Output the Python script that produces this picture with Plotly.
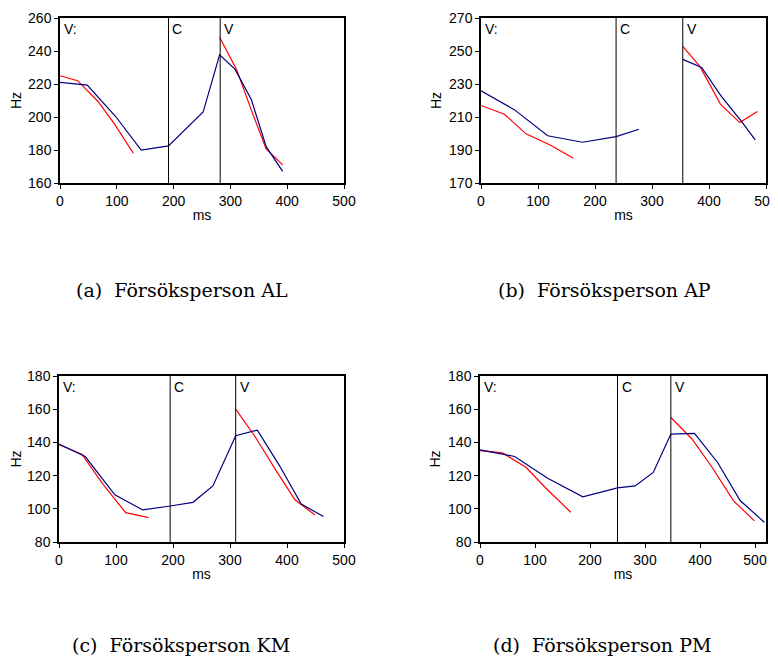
import plotly.graph_objects as go

# ---------------- data ----------------
panels = ["a", "b", "c", "d"]
captions = ["(a)  Försöksperson AL", "(b)  Försöksperson AP",
            "(c)  Försöksperson KM", "(d)  Försöksperson PM"]

# Panel (a)
a_blue_x = [0, 48, 98, 143, 191, 252, 281, 308, 337, 363, 392]
a_blue_y = [221, 219.3, 200.3, 180, 182.5, 203, 237.7, 229, 210.4, 182, 167]
a_red1_x = [0, 31, 67, 97, 129]
a_red1_y = [225, 222, 209.4, 195.2, 178]
a_red2_x = [281, 311, 340, 363, 392]
a_red2_y = [248.3, 228.6, 201.3, 180.7, 171]
a_lines = [191, 282]

# Panel (b)
b_blue1_x = [0, 59, 117, 178, 237, 277]
b_blue1_y = [225.9, 214.3, 198.6, 194.7, 198.1, 202.6]
b_blue2_x = [354, 387, 422, 457, 481]
b_blue2_y = [244.9, 240, 222.4, 207.3, 196.1]
b_red1_x = [0, 41, 79, 123, 162]
b_red1_y = [217, 211.7, 199.8, 192.7, 185]
b_red2_x = [354, 384, 420, 454, 485]
b_red2_y = [252.8, 240.7, 217.8, 206.6, 213.3]
b_lines = [237, 354]

# Panel (c)
c_blue_x = [0, 46, 98, 147, 195, 235, 270, 310, 348, 387, 425, 464]
c_blue_y = [139, 131.5, 108.4, 99.3, 101.7, 103.9, 113.8, 144, 147.4, 125.9, 102.9, 95.3]
c_red1_x = [0, 40, 78, 117, 157]
c_red1_y = [138.6, 132.9, 114.4, 97.7, 94.7]
c_red2_x = [310, 343, 381, 414, 449]
c_red2_y = [160, 144, 123, 105.4, 96.3]
c_lines = [195, 310]

# Panel (d)
d_blue_x = [0, 41, 63, 123, 187, 250, 282, 315, 347, 390, 432, 473, 517]
d_blue_y = [135.5, 132.7, 131.5, 118.4, 107.2, 112.6, 113.8, 121.9, 145, 145.4, 127.9, 105, 91.9]
d_red1_x = [0, 41, 84, 120, 165]
d_red1_y = [135.1, 133.7, 124.9, 112.4, 97.9]
d_red2_x = [347, 385, 421, 461, 499]
d_red2_y = [155, 142.2, 125.5, 104.8, 92.7]
d_lines = [250, 347]

y_ranges = {"a": [160, 260], "b": [170, 270], "c": [80, 180], "d": [80, 180]}
y_tick0 = {"a": 160, "b": 170, "c": 80, "d": 80}
x_ranges = {"a": [0, 500], "b": [0, 500], "c": [0, 500], "d": [0, 520]}
segment_labels = ["V:", "C", "V"]

BLUE = "#000080"
RED = "#ff0000"

series = {
    "a": ([(a_blue_x, a_blue_y)], [(a_red1_x, a_red1_y), (a_red2_x, a_red2_y)], a_lines),
    "b": ([(b_blue1_x, b_blue1_y), (b_blue2_x, b_blue2_y)],
          [(b_red1_x, b_red1_y), (b_red2_x, b_red2_y)], b_lines),
    "c": ([(c_blue_x, c_blue_y)], [(c_red1_x, c_red1_y), (c_red2_x, c_red2_y)], c_lines),
    "d": ([(d_blue_x, d_blue_y)], [(d_red1_x, d_red1_y), (d_red2_x, d_red2_y)], d_lines),
}

# page body adds an 8px offset; figure occupies the rest of the window
OX, OY = 8, 8
W, H = 770, 651
# plot-area boxes in window pixels (left, right, top, bottom)
boxes = {"a": (60, 344, 18, 183), "b": (481, 766, 18, 183),
         "c": (59, 344, 376, 542), "d": (480, 766, 376, 542)}
cap_pos = {"a": (182, 290), "b": (604, 290), "c": (181, 645), "d": (602, 645)}


def px_x(v):
    return (v - OX) / W


def px_y(v):
    return 1 - (v - OY) / H


fig = go.Figure()
layout = {}
shapes = []
annotations = []
tickfont = dict(family="Liberation Sans, Arial, sans-serif", size=14, color="black")

for i, p in enumerate(panels):
    n = "" if i == 0 else str(i + 1)
    xa, ya = "x" + n, "y" + n
    blues, reds, vlines = series[p]
    for xs, ys in reds:
        fig.add_trace(go.Scatter(x=xs, y=ys, mode="lines", xaxis=xa, yaxis=ya,
                                 line=dict(color=RED, width=1.2), showlegend=False))
    for xs, ys in blues:
        fig.add_trace(go.Scatter(x=xs, y=ys, mode="lines", xaxis=xa, yaxis=ya,
                                 line=dict(color=BLUE, width=1.2), showlegend=False))
    l, r, t, b = boxes[p]
    layout["xaxis" + n] = dict(
        domain=[px_x(l), px_x(r)], range=x_ranges[p], anchor=ya, tick0=0, dtick=100,
        automargin=False,
        showgrid=False, zeroline=False, showline=True, linecolor="black",
        linewidth=1.5, mirror=True, ticks="outside", ticklen=4, tickcolor="black",
        tickfont=tickfont, title=dict(text="ms", font=tickfont, standoff=3))
    layout["yaxis" + n] = dict(
        domain=[px_y(b), px_y(t)], range=y_ranges[p], anchor=xa,
        tick0=y_tick0[p], dtick=20, automargin=False,
        showgrid=False, zeroline=False, showline=True, linecolor="black",
        linewidth=1.5, mirror=True, ticks="outside", ticklen=4, tickcolor="black",
        tickfont=tickfont, title=dict(text="Hz", font=tickfont, standoff=4))
    for xv in vlines:
        shapes.append(dict(type="line", xref=xa, yref=ya + " domain", x0=xv, x1=xv,
                           y0=0, y1=1, line=dict(color="black", width=1)))
    label_x = [x_ranges[p][0]] + vlines
    for lx, txt in zip(label_x, segment_labels):
        annotations.append(dict(x=lx, y=1, xref=xa, yref=ya + " domain", text=txt,
                                showarrow=False, xanchor="left", yanchor="top",
                                xshift=2, yshift=-1, font=tickfont))
    cx, cy = cap_pos[p]
    annotations.append(dict(x=px_x(cx), y=px_y(cy), xref="paper", yref="paper",
                            text=captions[i], showarrow=False, xanchor="center",
                            yanchor="middle",
                            font=dict(family="DejaVu Serif, serif", size=19, color="black")))

fig.update_layout(**layout)
fig.update_layout(width=W, height=H, margin=dict(l=0, r=0, t=0, b=0, autoexpand=False),
                  paper_bgcolor="white", plot_bgcolor="white",
                  shapes=shapes, annotations=annotations, showlegend=False)

fig.write_html("out.html")
